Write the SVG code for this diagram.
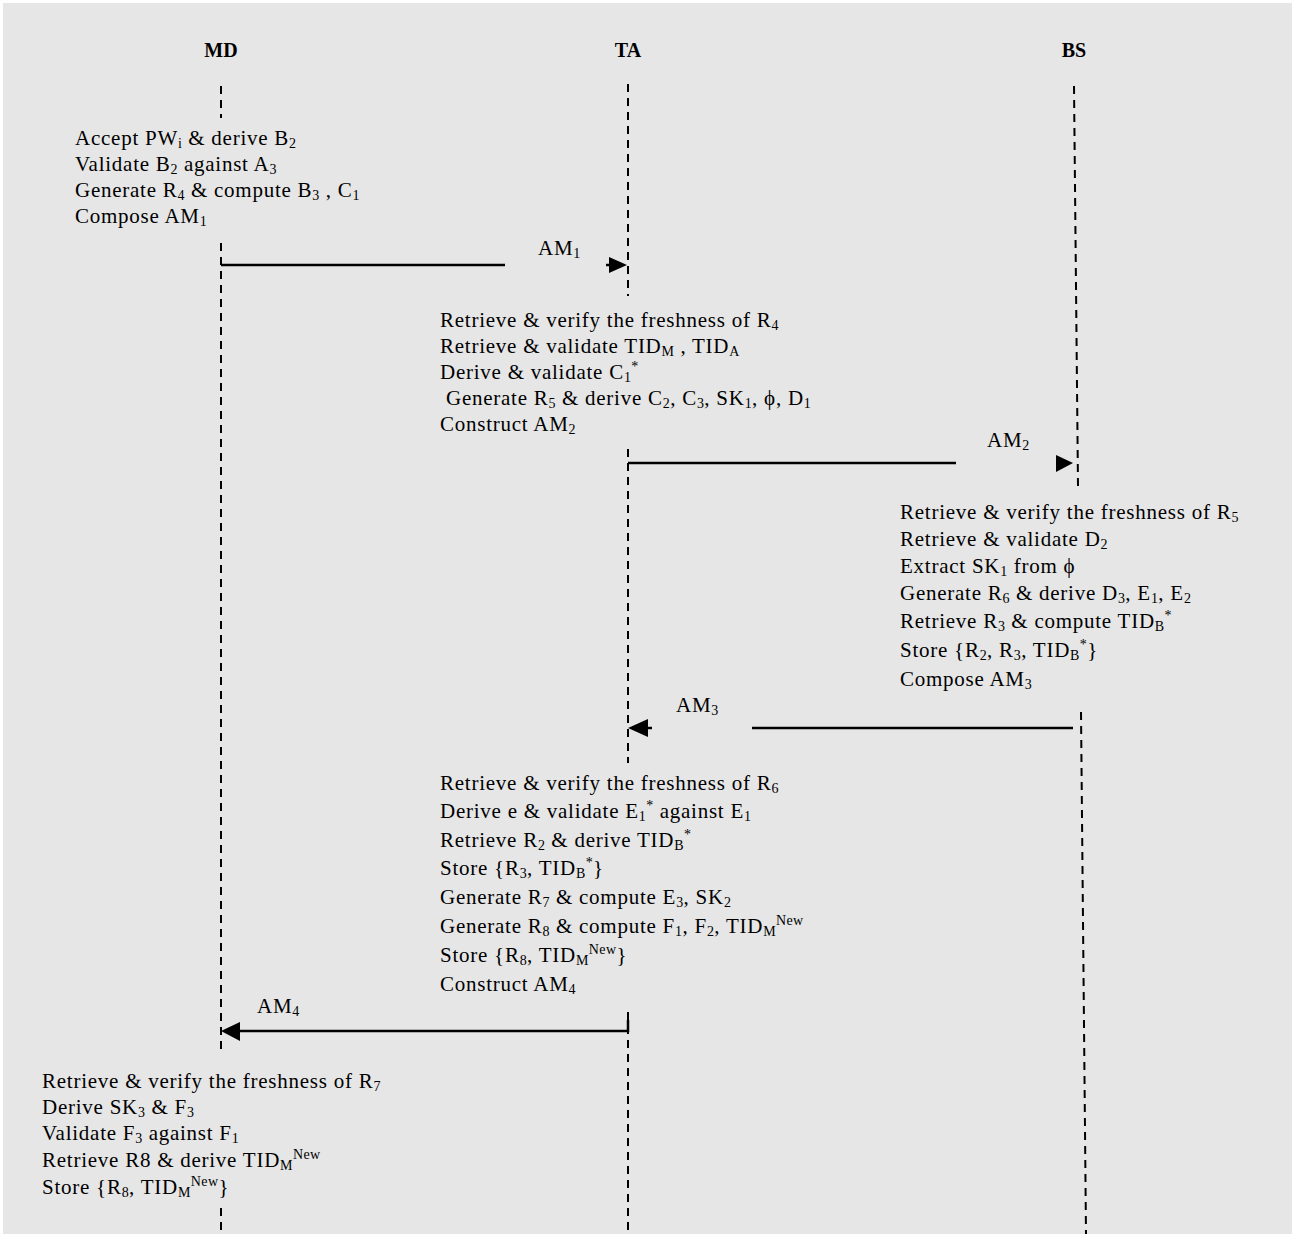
<svg xmlns="http://www.w3.org/2000/svg" width="1295" height="1234" viewBox="0 0 1295 1234">
<style>
text{font-family:"Liberation Serif","Times New Roman",serif;font-size:21px;letter-spacing:0.75px;fill:#000}
.h{font-weight:bold;text-anchor:middle;font-size:20px;letter-spacing:0}
.s{font-size:14px;letter-spacing:0.4px}
.life{stroke:#000;stroke-width:2;stroke-dasharray:8 6;fill:none}
.msg{stroke:#000;stroke-width:2.5;fill:none}
.ah{fill:#000}
</style>
<rect x="3" y="3" width="1289" height="1231" fill="#e6e6e6"/>
<g id="lifelines">
<line class="life" x1="221" y1="86" x2="221" y2="118"/>
<line class="life" x1="221" y1="243" x2="221" y2="1052"/>
<line class="life" x1="221" y1="1208" x2="221" y2="1234"/>
<line class="life" x1="628" y1="84" x2="628" y2="296"/>
<line class="life" x1="628" y1="449" x2="628" y2="763"/>
<line class="life" x1="628" y1="1012" x2="628" y2="1234"/>
<line class="life" x1="1074" y1="86" x2="1078" y2="486"/>
<line class="life" x1="1081" y1="712" x2="1086" y2="1234"/>
</g>
<g id="MD"><text class="h" x="221" y="57">MD</text></g>
<g id="TA"><text class="h" x="628" y="57">TA</text></g>
<g id="BS"><text class="h" x="1074" y="57">BS</text></g>
<g id="md-step1">
<text x="75" y="145">Accept PW<tspan class="s" dy="3">i</tspan><tspan dy="-3"> &amp; derive B</tspan><tspan class="s" dy="3">2</tspan></text>
<text x="75" y="171">Validate B<tspan class="s" dy="3">2</tspan><tspan dy="-3"> against A</tspan><tspan class="s" dy="3">3</tspan></text>
<text x="75" y="197">Generate R<tspan class="s" dy="3">4</tspan><tspan dy="-3"> &amp; compute B</tspan><tspan class="s" dy="3">3</tspan><tspan dy="-3"> , C</tspan><tspan class="s" dy="3">1</tspan></text>
<text x="75" y="223">Compose AM<tspan class="s" dy="3">1</tspan></text>
</g>
<g id="ta-step1">
<text x="440" y="327">Retrieve &amp; verify the freshness of R<tspan class="s" dy="3">4</tspan></text>
<text x="440" y="353">Retrieve &amp; validate TID<tspan class="s" dy="3">M</tspan><tspan dy="-3"> , TID</tspan><tspan class="s" dy="3">A</tspan></text>
<text x="440" y="379">Derive &amp; validate C<tspan class="s" dy="3">1</tspan><tspan class="s" dy="-11">*</tspan></text>
<text x="446" y="405">Generate R<tspan class="s" dy="3">5</tspan><tspan dy="-3"> &amp; derive C</tspan><tspan class="s" dy="3">2</tspan><tspan dy="-3">, C</tspan><tspan class="s" dy="3">3</tspan><tspan dy="-3">, SK</tspan><tspan class="s" dy="3">1</tspan><tspan dy="-3">, ϕ, D</tspan><tspan class="s" dy="3">1</tspan></text>
<text x="440" y="431">Construct AM<tspan class="s" dy="3">2</tspan></text>
</g>
<g id="bs-step">
<text x="900" y="519">Retrieve &amp; verify the freshness of R<tspan class="s" dy="3">5</tspan></text>
<text x="900" y="546">Retrieve &amp; validate D<tspan class="s" dy="3">2</tspan></text>
<text x="900" y="573">Extract SK<tspan class="s" dy="3">1</tspan><tspan dy="-3"> from ϕ</tspan></text>
<text x="900" y="600">Generate R<tspan class="s" dy="3">6</tspan><tspan dy="-3"> &amp; derive D</tspan><tspan class="s" dy="3">3</tspan><tspan dy="-3">, E</tspan><tspan class="s" dy="3">1</tspan><tspan dy="-3">, E</tspan><tspan class="s" dy="3">2</tspan></text>
<text x="900" y="628">Retrieve R<tspan class="s" dy="3">3</tspan><tspan dy="-3"> &amp; compute TID</tspan><tspan class="s" dy="3">B</tspan><tspan class="s" dy="-11">*</tspan></text>
<text x="900" y="657">Store {R<tspan class="s" dy="3">2</tspan><tspan dy="-3">, R</tspan><tspan class="s" dy="3">3</tspan><tspan dy="-3">, TID</tspan><tspan class="s" dy="3">B</tspan><tspan class="s" dy="-11">*</tspan><tspan dy="8">}</tspan></text>
<text x="900" y="686">Compose AM<tspan class="s" dy="3">3</tspan></text>
</g>
<g id="ta-step2">
<text x="440" y="790">Retrieve &amp; verify the freshness of R<tspan class="s" dy="3">6</tspan></text>
<text x="440" y="818">Derive e &amp; validate E<tspan class="s" dy="3">1</tspan><tspan class="s" dy="-11">*</tspan><tspan dy="8"> against E</tspan><tspan class="s" dy="3">1</tspan></text>
<text x="440" y="847">Retrieve R<tspan class="s" dy="3">2</tspan><tspan dy="-3"> &amp; derive TID</tspan><tspan class="s" dy="3">B</tspan><tspan class="s" dy="-11">*</tspan></text>
<text x="440" y="875">Store {R<tspan class="s" dy="3">3</tspan><tspan dy="-3">, TID</tspan><tspan class="s" dy="3">B</tspan><tspan class="s" dy="-11">*</tspan><tspan dy="8">}</tspan></text>
<text x="440" y="904">Generate R<tspan class="s" dy="3">7</tspan><tspan dy="-3"> &amp; compute E</tspan><tspan class="s" dy="3">3</tspan><tspan dy="-3">, SK</tspan><tspan class="s" dy="3">2</tspan></text>
<text x="440" y="933">Generate R<tspan class="s" dy="3">8</tspan><tspan dy="-3"> &amp; compute F</tspan><tspan class="s" dy="3">1</tspan><tspan dy="-3">, F</tspan><tspan class="s" dy="3">2</tspan><tspan dy="-3">, TID</tspan><tspan class="s" dy="3">M</tspan><tspan class="s" dy="-11">New</tspan></text>
<text x="440" y="962">Store {R<tspan class="s" dy="3">8</tspan><tspan dy="-3">, TID</tspan><tspan class="s" dy="3">M</tspan><tspan class="s" dy="-11">New</tspan><tspan dy="8">}</tspan></text>
<text x="440" y="991">Construct AM<tspan class="s" dy="3">4</tspan></text>
</g>
<g id="md-step2">
<text x="42" y="1088">Retrieve &amp; verify the freshness of R<tspan class="s" dy="3">7</tspan></text>
<text x="42" y="1114">Derive SK<tspan class="s" dy="3">3</tspan><tspan dy="-3"> &amp; F</tspan><tspan class="s" dy="3">3</tspan></text>
<text x="42" y="1140">Validate F<tspan class="s" dy="3">3</tspan><tspan dy="-3"> against F</tspan><tspan class="s" dy="3">1</tspan></text>
<text x="42" y="1167">Retrieve R8 &amp; derive TID<tspan class="s" dy="3">M</tspan><tspan class="s" dy="-11">New</tspan></text>
<text x="42" y="1194">Store {R<tspan class="s" dy="3">8</tspan><tspan dy="-3">, TID</tspan><tspan class="s" dy="3">M</tspan><tspan class="s" dy="-11">New</tspan><tspan dy="8">}</tspan></text>
</g>
<g id="connectors">
<g id="am1">
<line class="msg" x1="221" y1="265" x2="505" y2="265"/>
<line class="msg" x1="606" y1="265" x2="612" y2="265"/>
<polygon class="ah" points="609,257 627,265 609,273"/>
<text x="538" y="255">AM<tspan class="s" dy="3">1</tspan></text>
</g>
<g id="am2">
<line class="msg" x1="628" y1="463" x2="956" y2="463"/>
<polygon class="ah" points="1056,455 1073,463 1056,472"/>
<text x="987" y="447">AM<tspan class="s" dy="3">2</tspan></text>
</g>
<g id="am3">
<line class="msg" x1="752" y1="728" x2="1073" y2="728"/>
<line class="msg" x1="640" y1="728" x2="652" y2="728"/>
<polygon class="ah" points="628,728 648,719 648,737"/>
<text x="676" y="712">AM<tspan class="s" dy="3">3</tspan></text>
</g>
<g id="am4">
<line class="msg" x1="236" y1="1031" x2="628" y2="1031"/>
<line class="msg" x1="628" y1="1020" x2="628" y2="1032"/>
<polygon class="ah" points="221,1031 240,1022 240,1041"/>
<text x="257" y="1013">AM<tspan class="s" dy="3">4</tspan></text>
</g>
</g>
</svg>
